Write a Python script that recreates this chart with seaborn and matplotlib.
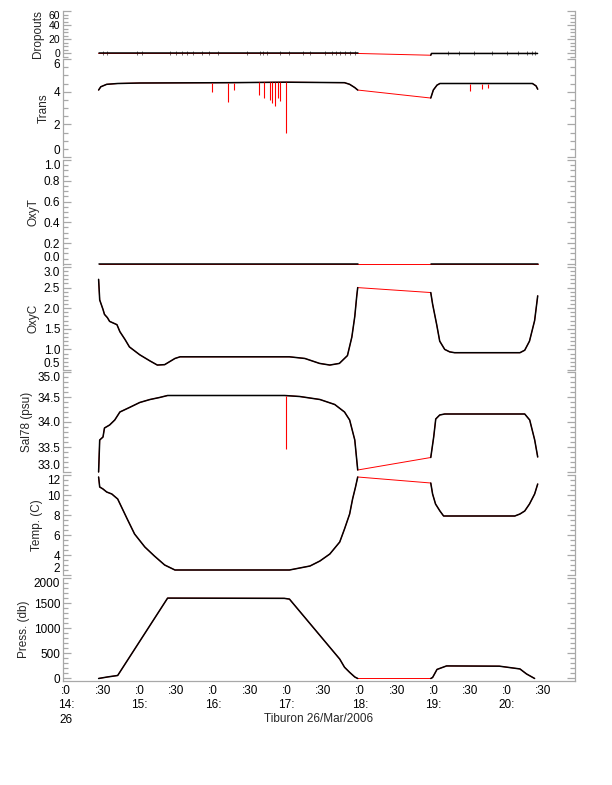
import numpy as np
import pandas as pd
import matplotlib
matplotlib.use("Agg")
import matplotlib.pyplot as plt
import seaborn as sns
from matplotlib.ticker import MultipleLocator, FormatStrFormatter

# ---------------- data (time in decimal hours) ----------------
drop_t1 = [14.44, 17.97]
drop_v1 = [0, 0]
drop_t2 = [18.965, 18.975, 20.42]
drop_v2 = [-2.5, 0, 0]
drop_events = [14.50, 14.56, 14.96, 15.03, 15.41, 15.50, 15.57, 15.64, 15.72, 15.85,
               15.95, 16.06, 16.46, 16.64, 16.68, 16.74, 16.91, 17.04, 17.22, 17.32,
               17.52, 17.62, 17.68, 17.73, 17.79, 17.86, 17.93, 19.20, 19.35, 19.55,
               19.80, 20.00, 20.15, 20.27, 20.34, 20.38]

trans_t1 = [14.44, 14.47, 14.55, 14.70, 15.00, 16.20, 17.00, 17.79, 17.86, 17.93, 17.97]
trans_v1 = [4.10, 4.30, 4.45, 4.50, 4.53, 4.55, 4.58, 4.55, 4.45, 4.25, 4.10]
trans_t2 = [18.965, 19.00, 19.05, 19.09, 20.35, 20.40, 20.422]
trans_v2 = [3.61, 4.10, 4.40, 4.50, 4.50, 4.35, 4.15]
trans_spike_t = [15.98, 16.20, 16.28, 16.62, 16.70, 16.77, 16.80, 16.84, 16.88, 16.91,
                 16.99, 19.50, 19.66, 19.74]
trans_spike_v = [4.00, 3.37, 4.10, 3.80, 3.60, 3.50, 3.30, 3.12, 3.60, 3.40,
                 1.47, 4.05, 4.15, 4.25]

oxyt_t1 = [14.44, 17.97]
oxyt_v1 = [0.0, 0.0]
oxyt_t2 = [18.965, 20.42]
oxyt_v2 = [0.0, 0.0]

oxyc_t1 = [14.44, 14.455, 14.50, 14.52, 14.56, 14.59, 14.69, 14.73, 14.80, 14.86, 15.00,
           15.14, 15.24, 15.34, 15.48, 15.55, 17.04, 17.25, 17.45, 17.59, 17.72, 17.83,
           17.89, 17.93, 17.957, 17.97]
oxyc_v1 = [2.70, 2.20, 1.97, 1.85, 1.77, 1.68, 1.60, 1.43, 1.24, 1.06, 0.87,
           0.72, 0.62, 0.63, 0.78, 0.82, 0.82, 0.78, 0.66, 0.62, 0.66, 0.85,
           1.30, 1.80, 2.30, 2.50]
oxyc_t2 = [18.965, 18.99, 19.046, 19.087, 19.155, 19.223, 19.29, 20.18, 20.245, 20.31,
           20.38, 20.422]
oxyc_v2 = [2.38, 2.10, 1.60, 1.20, 1.00, 0.94, 0.92, 0.92, 0.98, 1.20, 1.70, 2.30]

sal_t1 = [14.44, 14.455, 14.50, 14.52, 14.59, 14.66, 14.73, 14.86, 15.00, 15.14, 15.27,
          15.38, 16.975, 17.18, 17.455, 17.657, 17.79, 17.86, 17.93, 17.97]
sal_v1 = [33.00, 33.64, 33.70, 33.88, 33.94, 34.04, 34.20, 34.29, 34.39, 34.45, 34.49,
          34.53, 34.53, 34.51, 34.45, 34.35, 34.20, 34.04, 33.64, 33.04]
sal_t2 = [18.965, 19.005, 19.033, 19.087, 19.155, 20.245, 20.313, 20.381, 20.422]
sal_v2 = [33.29, 33.70, 34.06, 34.14, 34.16, 34.16, 34.04, 33.64, 33.30]
sal_spike_t = [16.99]
sal_spike_v = [33.45]

temp_t1 = [14.44, 14.455, 14.50, 14.55, 14.62, 14.70, 14.83, 14.93, 15.07, 15.20, 15.34,
           15.48, 17.04, 17.32, 17.455, 17.59, 17.725, 17.79, 17.86, 17.90, 17.94, 17.97]
temp_v1 = [11.8, 10.8, 10.6, 10.3, 10.1, 9.6, 7.6, 6.1, 4.8, 3.9, 3.0,
           2.5, 2.5, 2.9, 3.4, 4.1, 5.3, 6.6, 8.1, 9.6, 10.8, 11.8]
temp_t2 = [18.965, 18.99, 19.03, 19.09, 19.14, 20.11, 20.18, 20.245, 20.31, 20.38, 20.422]
temp_v2 = [11.2, 10.1, 9.1, 8.4, 7.9, 7.9, 8.1, 8.4, 9.1, 10.1, 11.1]

press_t1 = [14.44, 14.56, 14.70, 15.38, 16.97, 17.04, 17.725, 17.79, 17.86, 17.93, 17.97]
press_v1 = [0, 30, 60, 1600, 1595, 1580, 386, 224, 122, 30, 0]
press_t2 = [18.965, 18.99, 19.05, 19.18, 19.90, 20.18, 20.27, 20.38]
press_v2 = [0, 20, 180, 250, 245, 190, 90, 0]

x_ticks = [14.0, 14.5, 15.0, 15.5, 16.0, 16.5, 17.0, 17.5, 18.0, 18.5, 19.0, 19.5, 20.0, 20.5]
x_ticklabels = [":0\n14:\n26", ":30", ":0\n15:", ":30", ":0\n16:", ":30", ":0\n17:", ":30",
                ":0\n18:", ":30", ":0\n19:", ":30", ":0\n20:", ":30"]
x_title = "Tiburon 26/Mar/2006"

# ---------------- style ----------------
sns.set_style("white")
plt.rcParams["font.family"] = ["Liberation Sans", "DejaVu Sans"]
GRAY = "#a8a8a8"
FS = 8.5

fig = plt.figure(figsize=(6.12, 7.85), dpi=100)
H = 785.0
L, R = 63 / 612.0, 575 / 612.0
bounds = [(11, 57), (59, 157), (160, 265), (267, 370), (372, 472), (475, 575), (578, 681)]

panels = [
    dict(label="Dropouts", t1=drop_t1, v1=drop_v1, t2=drop_t2, v2=drop_v2,
         ylim=(-5, 60), major=20, minor=5, fmt="%d", tfs=7.5),
    dict(label="Trans", t1=trans_t1, v1=trans_v1, t2=trans_t2, v2=trans_v2,
         ylim=(0, 6), major=2, minor=0.5, fmt="%d",
         spikes=(trans_spike_t, trans_spike_v)),
    dict(label="OxyT", t1=oxyt_t1, v1=oxyt_v1, t2=oxyt_t2, v2=oxyt_v2,
         ylim=(-0.012, 1.0), major=0.2, minor=0.05, fmt="%.1f"),
    dict(label="OxyC", t1=oxyc_t1, v1=oxyc_v1, t2=oxyc_t2, v2=oxyc_v2,
         ylim=(0.5, 3.0), major=0.5, minor=0.1, fmt="%.1f"),
    dict(label="Sal78 (psu)", t1=sal_t1, v1=sal_v1, t2=sal_t2, v2=sal_v2,
         ylim=(33.0, 35.0), major=0.5, minor=0.1, fmt="%.1f",
         spikes=(sal_spike_t, sal_spike_v)),
    dict(label="Temp. (C)", t1=temp_t1, v1=temp_v1, t2=temp_t2, v2=temp_v2,
         ylim=(2, 12), major=2, minor=0.5, fmt="%d"),
    dict(label="Press. (db)", t1=press_t1, v1=press_v1, t2=press_t2, v2=press_v2,
         ylim=(-50, 2000), major=500, minor=100, fmt="%d"),
]

XLIM = (13.955, 20.93)

axes = []
for i, (p, (yt, yb)) in enumerate(zip(panels, bounds)):
    ax = fig.add_axes([L, 1 - yb / H, R - L, (yb - yt) / H])
    axes.append(ax)
    # red: full record including the gap
    red = pd.DataFrame({"t": p["t1"] + p["t2"], "v": p["v1"] + p["v2"]})
    sns.lineplot(data=red, x="t", y="v", color="red", lw=0.7, estimator=None,
                 sort=False, ax=ax, legend=False)
    # black: the two recorded segments
    blk = pd.DataFrame({"t": p["t1"] + p["t2"], "v": p["v1"] + p["v2"],
                        "seg": [0] * len(p["t1"]) + [1] * len(p["t2"])})
    sns.lineplot(data=blk, x="t", y="v", units="seg", color="black", lw=1.1,
                 estimator=None, sort=False, ax=ax, legend=False)
    if "spikes" in p:
        st, sv = p["spikes"]
        base = np.interp(st, red["t"], red["v"])
        ax.vlines(st, base, sv, color="red", lw=0.8)
    if p["label"] == "Dropouts":
        ev = pd.DataFrame({"t": drop_events, "v": [0] * len(drop_events)})
        sns.scatterplot(data=ev, x="t", y="v", marker="|", s=5, color="#333333",
                        linewidth=0.5, ax=ax, legend=False)
    for ln in ax.get_lines():
        ln.set_clip_on(False)

    ax.set_xlim(*XLIM)
    ax.set_ylim(*p["ylim"])
    ax.yaxis.set_major_locator(MultipleLocator(p["major"]))
    ax.yaxis.set_minor_locator(MultipleLocator(p["minor"]))
    ax.yaxis.set_major_formatter(FormatStrFormatter(p["fmt"]))
    ax.set_ylabel(p["label"], fontsize=FS, labelpad=3)
    ax.set_facecolor("none")
    for s in ("top", "bottom"):
        ax.spines[s].set_visible(False)
    for s in ("left", "right"):
        ax.spines[s].set_color(GRAY)
        ax.spines[s].set_linewidth(0.9)
    ax.tick_params(axis="y", which="major", direction="in", left=True, right=True,
                   length=6, width=0.9, color=GRAY, labelcolor="black",
                   labelsize=p.get("tfs", FS), pad=2)
    ax.tick_params(axis="y", which="minor", direction="in", left=True, right=True,
                   length=3.5, width=0.9, color=GRAY)
    if i < len(panels) - 1:
        ax.tick_params(axis="x", bottom=False, labelbottom=False)
        ax.set_xlabel("")
    else:
        ax.spines["bottom"].set_visible(True)
        ax.spines["bottom"].set_color(GRAY)
        ax.spines["bottom"].set_linewidth(0.9)
        ax.set_xticks(x_ticks)
        ax.set_xticklabels(x_ticklabels, fontsize=FS, linespacing=1.25)
        ax.tick_params(axis="x", length=0, pad=3, labelcolor="black")
        ax.set_xlabel(x_title, fontsize=FS)
        ax.xaxis.set_label_coords(0.5, (681 - 719) / 103.0)
        ax.xaxis.label.set_va("center")

fig.canvas.draw()
for ax in axes:
    lo, hi = ax.get_ylim()
    tol = 0.015 * (hi - lo)
    ticks = ax.yaxis.get_major_ticks()
    locs = ax.yaxis.get_majorticklocs()
    for k, v in enumerate(locs):
        if k >= len(ticks):
            break
        if abs(v - lo) < tol:
            ticks[k].label1.set_va("bottom")
        elif abs(v - hi) < tol:
            ticks[k].label1.set_va("top")

fig.savefig("out.png", dpi=100)
